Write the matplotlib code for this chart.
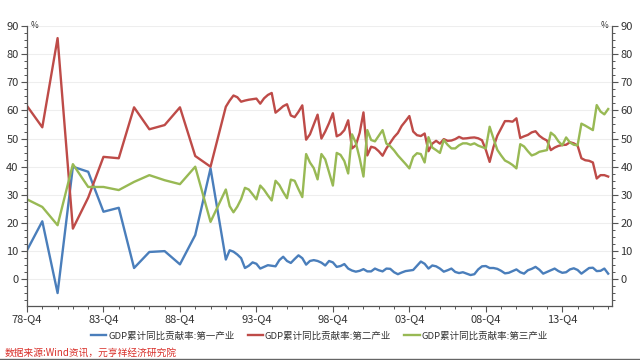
import matplotlib
matplotlib.use('Agg')
import matplotlib.pyplot as plt
import numpy as np

plt.rcParams['font.family'] = ['Noto Sans CJK SC', 'DejaVu Sans']

# annual values 1978-1991, then quarterly cumulative values 1992Q1-2016Q4
years_annual = list(range(1978, 1992))
primary_annual = [10.3, 20.6, -4.9, 40.0, 38.2, 24.0, 25.4, 4.0, 9.7, 10.0, 5.3, 15.7, 39.4, 7.0]
secondary_annual = [61.6, 54.0, 85.7, 18.0, 29.0, 43.5, 43.0, 61.1, 53.3, 54.8, 61.1, 43.8, 40.0, 61.3]
tertiary_annual = [28.4, 25.7, 19.2, 40.9, 32.8, 32.8, 31.7, 34.6, 37.0, 35.2, 33.8, 40.0, 20.4, 31.9]

primary_q = [10.3, 9.8, 8.8, 7.5, 4.0, 4.8, 6.0, 5.5, 3.8, 4.4,
             5.0, 4.8, 4.6, 6.8, 8.0, 6.5, 5.8, 7.2, 8.5, 7.5,
             5.2, 6.5, 6.8, 6.5, 5.9, 4.9, 6.5, 6.0, 4.4, 4.7,
             5.4, 3.8, 3.1, 2.7, 3.0, 3.6, 2.8, 2.8, 3.8, 3.2,
             2.8, 3.8, 3.7, 2.5, 1.8, 2.4, 2.9, 3.1, 3.3, 4.8,
             6.3, 5.5, 3.8, 4.9, 4.6, 3.8, 2.7, 3.2, 3.8, 2.6,
             2.2, 2.5, 2.0, 1.5, 1.8, 3.5, 4.6, 4.7, 4.0, 4.0,
             3.7, 3.0, 2.1, 2.3, 2.9, 3.5, 2.5, 2.0, 3.2, 3.7,
             4.4, 3.4, 2.0, 2.6, 3.2, 3.8, 2.9, 2.3, 2.5, 3.5,
             3.9, 3.3, 2.0, 3.0, 4.0, 4.1, 2.9, 3.0, 3.8, 2.0]
secondary_q = [63.5, 65.3, 64.7, 63.1, 63.5, 63.8, 64.0, 64.2, 62.4, 64.3,
               65.5, 66.2, 59.2, 60.3, 61.5, 62.2, 58.2, 57.6, 59.5, 61.8,
               49.6, 51.5, 55.0, 58.5, 50.0, 52.5, 55.5, 59.0, 50.8, 51.5,
               53.0, 56.5, 46.5, 47.6, 52.0, 59.3, 44.0, 47.1, 46.7, 45.5,
               43.9, 46.5, 48.5, 50.5, 52.0, 54.5, 56.2, 58.0, 52.5, 51.2,
               50.9, 51.8, 45.5, 48.2, 49.2, 48.2, 49.8, 49.2, 49.3, 49.8,
               50.6, 50.0, 50.1, 50.3, 50.4, 50.1, 49.4, 46.0, 41.7, 47.0,
               51.0, 53.6, 56.2, 56.2, 56.0, 57.2, 50.2, 50.8, 51.3, 52.2,
               52.6, 51.0, 50.0, 49.3, 45.9, 46.8, 47.4, 47.7, 47.8, 48.7,
               48.3, 47.5, 43.0, 42.3, 42.1, 41.5, 35.8, 37.0, 37.0, 36.5]
tertiary_q = [26.0, 23.8, 25.8, 28.5, 32.5, 31.9, 30.2, 28.4, 33.3, 31.8,
              29.8, 28.0, 35.0, 33.5, 31.0, 28.8, 35.4, 35.0, 32.0, 29.2,
              44.5, 41.5, 39.5, 35.5, 44.5, 42.6, 38.0, 33.3, 44.9, 44.2,
              42.0, 37.6, 51.5, 48.5, 43.0, 36.5, 53.0, 49.5, 49.0, 51.0,
              53.0, 48.2, 47.3, 45.8, 44.0, 42.5, 41.0, 39.4, 43.5, 44.8,
              44.5, 41.5, 50.5, 46.8, 45.9, 44.9, 49.5, 47.8, 46.5, 46.5,
              47.6, 48.3, 48.3, 47.8, 48.3, 47.5, 47.0, 46.5, 54.2, 50.0,
              46.0, 44.0, 42.2, 41.5, 40.6, 39.4, 48.0, 47.2, 45.5, 44.0,
              44.5, 45.3, 45.6, 45.9, 52.1, 51.0, 49.0, 47.6, 50.4, 48.6,
              47.8, 47.6, 55.3, 54.6, 53.8, 53.0, 61.9, 59.6, 58.6, 60.5]

tick_labels = ['78-Q4', '83-Q4', '88-Q4', '93-Q4', '98-Q4', '03-Q4', '08-Q4', '13-Q4']
names = ['GDP累计同比贡献率:第一产业', 'GDP累计同比贡献率:第二产业', 'GDP累计同比贡献率:第三产业']
colors = ['#4a7ebb', '#be4b48', '#98b954']

# x position in quarters counted from 78-Q4
x_annual = [(y - 1978) * 4 for y in years_annual]
x_q = [53 + i for i in range(len(primary_q))]
x = x_annual + x_q
series = [primary_annual + primary_q,
          secondary_annual + secondary_q,
          tertiary_annual + tertiary_q]

fig = plt.figure(figsize=(6.4, 3.6), dpi=100)
ax = fig.add_axes([27 / 640, 1 - 306 / 360, 585 / 640, 280 / 360])

for vals, c, n in zip(series, colors, names):
    ax.plot(x, vals, color=c, lw=1.7, label=n, solid_joinstyle='round')

ax.set_xlim(0, 153)
ax.set_ylim(-9.5, 90)
ax.set_yticks(range(0, 91, 10))
ax.set_yticks(np.arange(-7.5, 90, 2.5), minor=True)
ax.set_xticks(range(0, 141, 20))
ax.set_xticklabels(tick_labels)
ax.set_xticks(range(0, 153, 4), minor=True)
ax.grid(axis='y', color='#eeeeee', lw=0.8)
ax.set_axisbelow(True)

for s in ['left', 'right', 'bottom']:
    ax.spines[s].set_color('#555555')
    ax.spines[s].set_linewidth(0.9)
ax.spines['top'].set_visible(False)

ax.tick_params(axis='both', which='major', direction='out', length=4, width=0.8,
               color='#555555', labelsize=8, labelcolor='#333333', pad=2)
ax.tick_params(axis='both', which='minor', direction='out', length=2, width=0.7, color='#555555')
ax.tick_params(axis='y', right=True, labelright=True)
ax.tick_params(axis='y', which='minor', right=True)

ax.text(0.006, 1.0, '%', transform=ax.transAxes, fontsize=6, color='#333333', ha='left', va='center')
ax.text(0.994, 1.0, '%', transform=ax.transAxes, fontsize=6, color='#333333', ha='right', va='center')

ax.legend(loc='center', bbox_to_anchor=(0.5, -0.107), ncol=3, frameon=False,
          fontsize=6.8, handlelength=1.6, handletextpad=0.2, columnspacing=1.4,
          labelcolor='#333333', borderpad=0.2)

fig.text(5 / 640, 1 - 353 / 360, '数据来源:Wind资讯，元亨祥经济研究院', color='#d9302a',
         fontsize=7, style='italic', va='center', ha='left')
fig.add_artist(plt.Line2D([0, 1], [0.003, 0.003], color='#666666', lw=1))

fig.savefig('out.png', dpi=100)
